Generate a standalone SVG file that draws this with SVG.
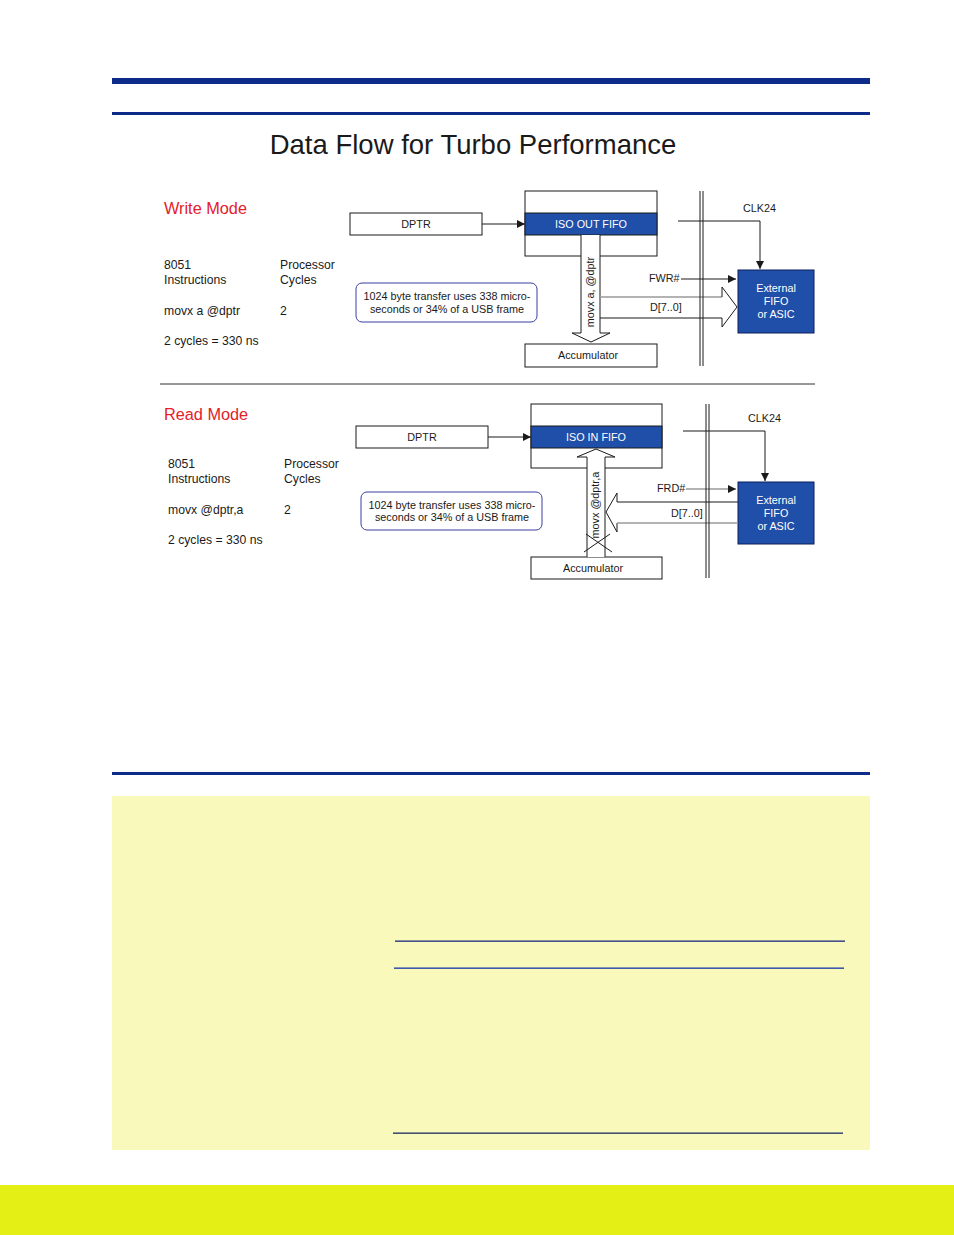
<svg xmlns="http://www.w3.org/2000/svg" width="954" height="1235" viewBox="0 0 954 1235">
<defs>
<style>
text{font-family:"Liberation Sans",Arial,sans-serif;fill:#1a1a1a}
.lbl{font-size:12.2px}
.sm{font-size:10.8px}
.red{font-size:16.3px;fill:#e4202a}
.w{fill:#fff}
.box{fill:#fff;stroke:#1a1a1a;stroke-width:1}
.band{fill:#1f4fa8;stroke:#1a1a1a;stroke-width:1}
.ext{fill:#1f4fa8;stroke:#0c1f5c;stroke-width:1}
.call{fill:#fff;stroke:#3b3fa0;stroke-width:1}
.ln{stroke:#1a1a1a;stroke-width:1;fill:none}
.gr{stroke:#9a9a9a;stroke-width:1.5;fill:none}
</style>
<marker id="ah" viewBox="0 0 10 10" refX="10" refY="5" markerWidth="8" markerHeight="8" markerUnits="userSpaceOnUse" orient="auto"><path d="M0,0 L10,5 L0,10 z" fill="#1a1a1a"/></marker>
</defs>
<rect width="954" height="1235" fill="#fff"/>
<rect x="112" y="78" width="758" height="6" fill="#0d2b88"/>
<rect x="112" y="112" width="758" height="3" fill="#0d2b88"/>
<text x="473" y="154" text-anchor="middle" style="font-size:27.5px">Data Flow for Turbo Performance</text>

<g id="write-labels">
<text x="164" y="214" class="red">Write Mode</text>
<text x="164" y="269" class="lbl">8051</text>
<text x="164" y="284" class="lbl">Instructions</text>
<text x="280" y="269" class="lbl">Processor</text>
<text x="280" y="284" class="lbl">Cycles</text>
<text x="164" y="315" class="lbl">movx a  @dptr</text>
<text x="280" y="315" class="lbl">2</text>
<text x="164" y="345" class="lbl">2 cycles = 330 ns</text>
</g>
<g id="w-dptr"><rect x="350" y="213" width="132" height="22" class="box"/><text x="416" y="228" text-anchor="middle" class="sm">DPTR</text></g>
<g id="w-fifo"><rect x="525" y="191" width="132" height="65" class="box"/><rect x="525" y="213" width="132" height="22" class="band"/><text x="591" y="228" text-anchor="middle" class="sm w">ISO OUT FIFO</text></g>
<g id="w-acc"><rect x="525" y="344" width="132" height="23" class="box"/><text x="588" y="359" text-anchor="middle" class="sm">Accumulator</text></g>
<g id="w-call"><rect x="356" y="283" width="181" height="39" rx="6" class="call"/><text x="447" y="300" text-anchor="middle" class="sm">1024 byte transfer uses 338 micro-</text><text x="447" y="313" text-anchor="middle" class="sm">seconds or 34% of a USB frame</text></g>
<g id="w-ext"><rect x="738" y="270" width="76" height="63" class="ext"/><text x="776" y="292" text-anchor="middle" class="sm w">External</text><text x="776" y="305" text-anchor="middle" class="sm w">FIFO</text><text x="776" y="318" text-anchor="middle" class="sm w">or ASIC</text></g>
<g id="w-connectors">
<line x1="482" y1="224" x2="525" y2="224" class="ln" marker-end="url(#ah)"/>
<path d="M581,235 L581,333 L572,333 L591,342 L610,333 L600,333 L600,235" fill="#fff" stroke="#1a1a1a" stroke-width="1"/>
<text transform="translate(594,292) rotate(-90)" text-anchor="middle" class="sm">movx a, @dptr</text>
<line x1="600" y1="297" x2="722" y2="297" class="gr"/>
<path d="M600,318 L722,318 L722,327 L737,307 L722,287 L722,297" class="ln"/>
<text x="650" y="311" class="sm">D[7..0]</text>
<text x="649" y="282" class="sm">FWR#</text>
<line x1="681" y1="279" x2="736" y2="279" class="ln" marker-end="url(#ah)"/>
<line x1="700" y1="191" x2="700" y2="366" class="ln"/>
<line x1="703" y1="191" x2="703" y2="366" class="ln"/>
<text x="743" y="212" class="sm">CLK24</text>
<path d="M678,221 L760,221 L760,269" class="ln" marker-end="url(#ah)"/>
</g>

<line x1="160" y1="384" x2="815" y2="384" stroke="#333" stroke-width="1"/>

<g id="read-labels">
<text x="164" y="420" class="red">Read Mode</text>
<text x="168" y="468" class="lbl">8051</text>
<text x="168" y="483" class="lbl">Instructions</text>
<text x="284" y="468" class="lbl">Processor</text>
<text x="284" y="483" class="lbl">Cycles</text>
<text x="168" y="514" class="lbl">movx  @dptr,a</text>
<text x="284" y="514" class="lbl">2</text>
<text x="168" y="544" class="lbl">2 cycles = 330 ns</text>
</g>
<g id="r-dptr"><rect x="356" y="426" width="132" height="22" class="box"/><text x="422" y="441" text-anchor="middle" class="sm">DPTR</text></g>
<g id="r-fifo"><rect x="531" y="404" width="131" height="64" class="box"/><rect x="531" y="426" width="131" height="22" class="band"/><text x="596" y="441" text-anchor="middle" class="sm w">ISO IN FIFO</text></g>
<g id="r-acc"><rect x="531" y="557" width="131" height="22" class="box"/><text x="593" y="572" text-anchor="middle" class="sm">Accumulator</text></g>
<g id="r-call"><rect x="361" y="492" width="181" height="38" rx="6" class="call"/><text x="452" y="509" text-anchor="middle" class="sm">1024 byte transfer uses 338 micro-</text><text x="452" y="521" text-anchor="middle" class="sm">seconds or 34% of a USB frame</text></g>
<g id="r-ext"><rect x="738" y="482" width="76" height="62" class="ext"/><text x="776" y="504" text-anchor="middle" class="sm w">External</text><text x="776" y="517" text-anchor="middle" class="sm w">FIFO</text><text x="776" y="530" text-anchor="middle" class="sm w">or ASIC</text></g>
<g id="r-connectors">
<line x1="488" y1="437" x2="531" y2="437" class="ln" marker-end="url(#ah)"/>
<path d="M587,557 L587,457 L577,457 L596,449 L615,457 L605,457 L605,557" fill="#fff" stroke="#1a1a1a" stroke-width="1"/>
<text transform="translate(599,505) rotate(-90)" text-anchor="middle" class="sm">movx @dptr,a</text>
<line x1="586" y1="534" x2="612" y2="552" class="ln"/>
<line x1="584" y1="552" x2="610" y2="534" class="ln"/>
<path d="M738,502 L617,502 L617,493 L606,512 L617,532 L617,523" class="ln"/>
<line x1="617" y1="523" x2="738" y2="523" class="gr"/>
<text x="671" y="517" class="sm">D[7..0]</text>
<text x="657" y="492" class="sm">FRD#</text>
<line x1="686" y1="489" x2="736" y2="489" class="gr" marker-end="url(#ah)"/>
<line x1="706" y1="404" x2="706" y2="578" class="ln"/>
<line x1="709" y1="404" x2="709" y2="578" class="ln"/>
<text x="748" y="422" class="sm">CLK24</text>
<path d="M683,431 L765,431 L765,481" class="ln" marker-end="url(#ah)"/>
</g>

<rect x="112" y="772" width="758" height="3" fill="#0d2b88"/>
<rect x="112" y="796" width="758" height="354" fill="#f9f9bc"/>
<rect x="395" y="940.5" width="450" height="1.3" fill="#1a2a80"/>
<rect x="394" y="967.5" width="450" height="1.3" fill="#1234a8"/>
<rect x="393" y="1132.5" width="450" height="1.3" fill="#1a2a60"/>
<rect x="0" y="1185" width="954" height="50" fill="#e4ef16"/>
</svg>
